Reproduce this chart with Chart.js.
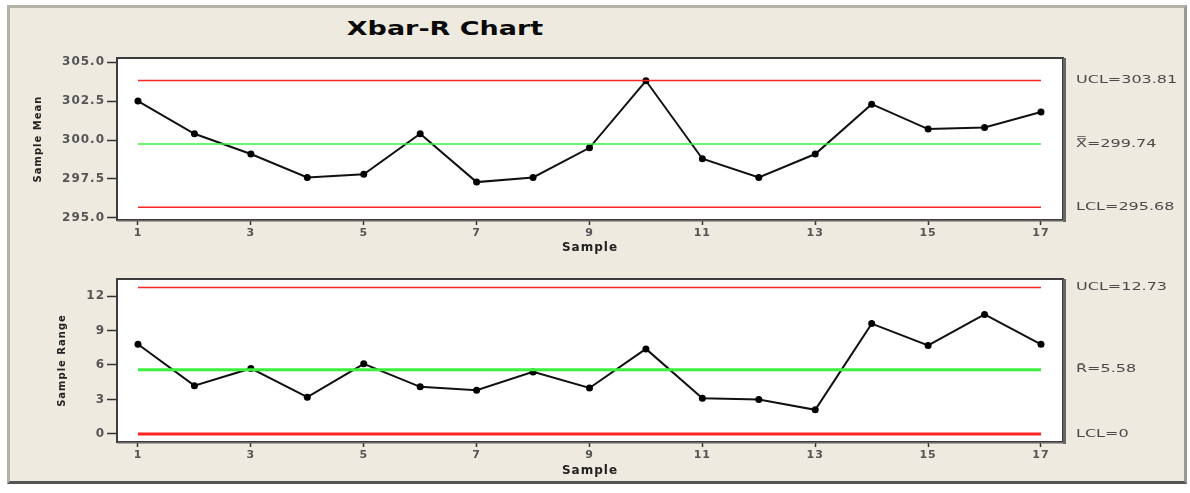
<!DOCTYPE html>
<html>
<head>
<meta charset="utf-8">
<script src="https://cdn.jsdelivr.net/npm/chart.js@4.4.1/dist/chart.umd.min.js"></script>
<style>
  html, body { margin: 0; padding: 0; background: #fff; }
  #frame { position: absolute; left: 7px; top: 5px; width: 1174px; height: 473px;
           background: #eeeae0; border-top: 3px solid #b4b1a9; border-left: 3px solid #b4b1a9;
           border-bottom: 3px solid #555; border-right: 3px solid #9a9892; }
  #title { position: absolute; left: 0; top: 19px; width: 890px; text-align: center;
           font: bold 19px "DejaVu Sans"; line-height: 19px; color: #0a0a0a;
           transform: scaleX(1.42); transform-origin: 445px 50%; }
  canvas { position: absolute; left: 0; }
</style>
</head>
<body>
<div id="frame"></div>
<div id="title">Xbar-R Chart</div>
<canvas id="meanChart" width="1190" height="258" style="top:0"></canvas>
<canvas id="rangeChart" width="1190" height="235" style="top:258px"></canvas>
<script>
// samples
var sampleNumbers = [1, 2, 3, 4, 5, 6, 7, 8, 9, 10, 11, 12, 13, 14, 15, 16, 17];
var sampleTicks = [1, 3, 5, 7, 9, 11, 13, 15, 17];

// Xbar chart
var meanValues = [302.5, 300.4, 299.1, 297.6, 297.8, 300.4, 297.3, 297.6, 299.5, 303.8,
                  298.8, 297.6, 299.1, 302.3, 300.7, 300.8, 301.8];
var meanTicks = [295.0, 297.5, 300.0, 302.5, 305.0];
var meanLimits = [303.81, 299.74, 295.68];   // UCL, center, LCL
var meanLimitLabels = ['UCL=303.81', 'X\u033F=299.74', 'LCL=295.68'];

// R chart
var rangeValues = [7.8, 4.2, 5.7, 3.2, 6.1, 4.1, 3.8, 5.4, 4.0, 7.4,
                   3.1, 3.0, 2.1, 9.6, 7.7, 10.4, 7.8];
var rangeTicks = [0, 3, 6, 9, 12];
var rangeLimits = [12.73, 5.58, 0];
var rangeLimitLabels = ['UCL=12.73', 'R\u0304=5.58', 'LCL=0'];

Chart.defaults.font.family = '"DejaVu Sans"';

// white plot area, border and the limit labels on the right
var framePlugin = {
  id: 'frame',
  beforeDraw: function(chart) {
    var ctx = chart.ctx, a = chart.chartArea;
    ctx.save();
    ctx.fillStyle = '#fff';
    ctx.fillRect(a.left, a.top, a.width, a.height);
    ctx.restore();
    ctx.letterSpacing = '1px';
  },
  afterDraw: function(chart, args, opts) {
    var ctx = chart.ctx, a = chart.chartArea;
    ctx.letterSpacing = '0px';
    ctx.save();
    ctx.strokeStyle = '#3c3c3c';
    ctx.lineWidth = 2;
    ctx.strokeRect(a.left, a.top, a.width, a.height);
    ctx.fillStyle = '#666';
    ctx.fillRect(a.right, a.top, 3, a.height + 2);
    ctx.fillRect(a.left, a.bottom, a.width + 3, 1.5);

    var y = chart.scales.y;
    ctx.fillStyle = '#4a4a4a';
    ctx.font = '10px "DejaVu Sans"';
    ctx.textBaseline = 'middle';
    opts.labels.forEach(function(t, i) {
      var py = y.getPixelForValue(opts.values[i]);
      ctx.save();
      ctx.translate(a.right + 13, py);
      ctx.scale(1.6, 1);
      ctx.fillText(t, 0, 0);
      ctx.restore();
    });
    ctx.restore();
  }
};

function limitLine(v, color, width) {
  return {
    data: sampleNumbers.map(function(s) { return {x: s, y: v}; }),
    borderColor: color, borderWidth: width, pointRadius: 0, fill: false
  };
}

function makeChart(id, values, limits, labels, yTicks, yMin, yMax, fmt, opt) {
  var ctx = document.getElementById(id).getContext('2d');
  return new Chart(ctx, {
    type: 'line',
    data: {
      datasets: [
        limitLine(limits[0], '#ff2424', opt.uclWidth),
        limitLine(limits[1], '#3ef03e', opt.clWidth),
        limitLine(limits[2], '#ff2424', opt.lclWidth),
        {
          data: sampleNumbers.map(function(s, i) { return {x: s, y: values[i]}; }),
          borderColor: '#111', borderWidth: 2,
          pointRadius: 3.5, pointBackgroundColor: '#000', pointBorderWidth: 0
        }
      ]
    },
    options: {
      responsive: false,
      animation: false,
      layout: { padding: { top: opt.padTop, right: 127, bottom: opt.padBottom, left: 0 } },
      plugins: {
        legend: { display: false },
        tooltip: { enabled: false },
        frame: { labels: labels, values: limits }
      },
      scales: {
        x: {
          type: 'linear', min: 0.628, max: 17.39,
          afterBuildTicks: function(axis) { axis.ticks = sampleTicks.map(function(v) { return {value: v}; }); },
          afterFit: function(axis) { axis.height = 38; },
          ticks: { autoSkip: false, maxRotation: 0, padding: 2, color: '#555',
                   font: { size: 11, weight: 'bold' }, callback: function(v) { return String(v); } },
          grid: { drawOnChartArea: false, tickLength: 5, tickWidth: 1.5, tickColor: '#333' },
          border: { display: false },
          title: { display: true, text: 'Sample', color: '#222',
                   font: { size: 12, weight: 'bold' }, padding: { top: 0, bottom: opt.xTitlePad } }
        },
        y: {
          min: yMin, max: yMax,
          afterBuildTicks: function(axis) { axis.ticks = yTicks.map(function(v) { return {value: v}; }); },
          afterFit: function(axis) { axis.width = 117; },
          ticks: { padding: 2, color: '#555', font: { size: 12, weight: 'bold' }, callback: fmt },
          grid: { drawOnChartArea: false, tickLength: 10, tickWidth: 1.5, tickColor: '#333' },
          border: { display: false },
          title: { display: true, text: opt.yTitle, color: '#222',
                   font: { size: 10, weight: 'bold' }, padding: { top: opt.yTitlePad, bottom: 0 } }
        }
      }
    },
    plugins: [framePlugin]
  });
}

makeChart('meanChart', meanValues, meanLimits, meanLimitLabels, meanTicks, 294.87, 305.26,
  function(v) { return v.toFixed(1); },
  { padTop: 58, padBottom: 0, xTitlePad: 3, yTitle: 'Sample Mean', yTitlePad: 32,
    uclWidth: 1.5, clWidth: 1.5, lclWidth: 1.5 });

makeChart('rangeChart', rangeValues, rangeLimits, rangeLimitLabels, rangeTicks, -0.70, 13.48,
  function(v) { return String(v); },
  { padTop: 21, padBottom: 13, xTitlePad: 2, yTitle: 'Sample Range', yTitlePad: 56,
    uclWidth: 1.5, clWidth: 3, lclWidth: 3 });
</script>
</body>
</html>
